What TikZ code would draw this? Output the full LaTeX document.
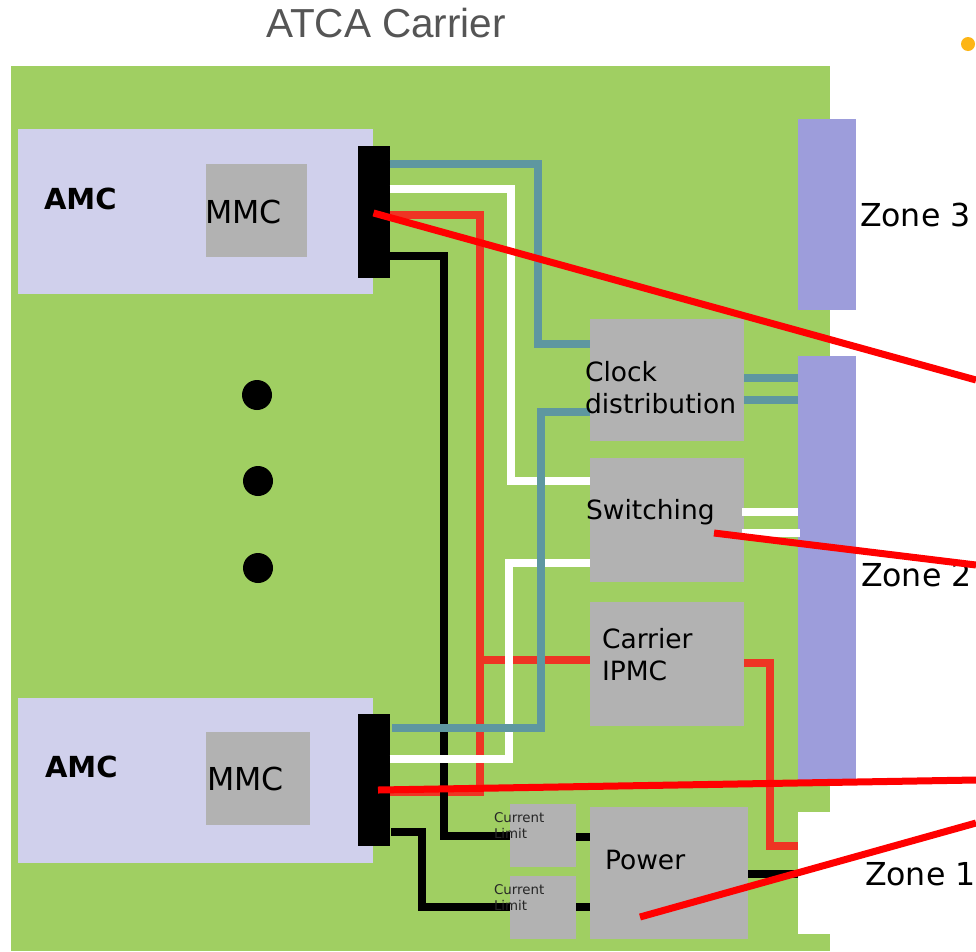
\documentclass[tikz,border=0pt]{standalone}
\usepackage{fontspec}
\setmainfont{DejaVu Sans}
\newfontfamily\titlefont{Liberation Sans}
\definecolor{board}{HTML}{A0CF62}
\definecolor{amcfill}{HTML}{D0D0EC}
\definecolor{greybox}{HTML}{B2B2B2}
\definecolor{zonefill}{HTML}{9D9DDB}
\definecolor{tealw}{HTML}{5E97A0}
\definecolor{redw}{HTML}{EE3524}
\definecolor{overred}{HTML}{FF0000}
\definecolor{titlegrey}{HTML}{555555}
\definecolor{orangedot}{HTML}{FDB515}
\newcommand{\fs}[1]{\fontsize{#1}{#1}\selectfont}
\tikzset{
  x=1pt,y=-1pt,
  panel/.style={draw=none,inner sep=0pt,outer sep=0pt,rectangle},
  amcbox/.style={panel,fill=amcfill,minimum width=355pt,minimum height=165pt},
  graybox/.style={panel,fill=greybox},
  connbox/.style={panel,fill=black,minimum width=32pt,minimum height=132pt},
  zonebox/.style={panel,fill=zonefill,minimum width=58pt},
  wire/.style={line width=7.5pt,line join=miter},
  tealwire/.style={wire,draw=tealw},
  whitewire/.style={wire,draw=white},
  redwire/.style={wire,draw=redw},
  blackwire/.style={wire,draw=black},
  overline/.style={line width=7pt,draw=overred},
  dotnode/.style={circle,fill=black,minimum size=30pt,inner sep=0pt},
  txt/.style={inner sep=0pt,outer sep=0pt,anchor=base west,text=black,font=\fs{26.5}},
  big/.style={txt,font=\fs{31.6}},
  tiny/.style={txt,font=\fs{13.4},text=black!85,align=left},
}
\begin{document}
\begin{tikzpicture}
\useasboundingbox (0,0) rectangle (976,951);
\fill[white] (0,0) rectangle (976,951);
% board
\fill[board] (11,66) rectangle (830,951);
\fill[white] (798,812) rectangle (830,934);
\coordinate (zoneoneedge) at (798,860);
% boxes
\node[amcbox] (amcA) at (195.5,211.5) {};
\node[amcbox] (amcB) at (195.5,780) {};
\node[graybox,minimum width=101pt,minimum height=93pt] (mmcA) at (256,210.5) {};
\node[graybox,minimum width=104pt,minimum height=93pt] (mmcB) at (257.5,778.5) {};
\node[zonebox,minimum height=191pt] (zthree) at (827,214.5) {};
\node[zonebox,minimum height=424pt] (ztwo) at (827,568) {};
\node[graybox,minimum width=154pt,minimum height=122pt] (clock) at (667,380) {};
\node[graybox,minimum width=154pt,minimum height=124pt] (switch) at (667,520) {};
\node[graybox,minimum width=154pt,minimum height=124pt] (ipmc) at (667,664) {};
\node[graybox,minimum width=158pt,minimum height=132pt] (power) at (669,873) {};
\node[graybox,minimum width=66pt,minimum height=63pt] (limA) at (543,835.5) {};
\node[graybox,minimum width=66pt,minimum height=63pt] (limB) at (543,907.5) {};
\node[connbox] (connA) at (373.5,212) {};
\node[connbox] (connB) at (373.5,780) {};
% wires: upper AMC
\draw[tealwire] (connA.east |- 0,164) -- (538,164) |- (clock.west |- 0,344);
\draw[whitewire] (connA.east |- 0,189) -- (511,189) |- (switch.west |- 0,481);
\draw[redwire] (connA.east |- 0,215) -- (480,215) |- (connB.east |- 0,792);
\draw[redwire] (480,660) -- (ipmc.west |- 0,660);
\draw[blackwire] (connA.east |- 0,256) -- (444,256) |- (limA.west |- 0,836);
% wires: lower AMC
\draw[whitewire] (connB.east |- 0,759) -- (509,759) |- (switch.west |- 0,563);
\draw[tealwire] (392,728) -- (541,728) |- (clock.west |- 0,412);
\draw[blackwire] (391,832) -- (422,832) |- (limB.west |- 0,907);
% wires: right side
\draw[tealwire] (clock.east |- 0,378) -- (ztwo.west |- 0,378);
\draw[tealwire] (clock.east |- 0,400) -- (ztwo.west |- 0,400);
\draw[whitewire] (742,512) -- (ztwo.west |- 0,512);
\draw[whitewire] (742,533) -- (800,533);
\draw[redwire] (ipmc.east |- 0,663) -- (770,663) |- (zoneoneedge |- 0,846);
\draw[blackwire] (power.east |- 0,874) -- (zoneoneedge |- 0,874);
\draw[blackwire] (limA.east |- 0,837) -- (power.west |- 0,837);
\draw[blackwire] (limB.east |- 0,907) -- (power.west |- 0,907);
% dots
\node[dotnode] (dotA) at (257,395) {};
\node[dotnode] (dotB) at (258,481) {};
\node[dotnode] (dotC) at (258,568) {};
\node[circle,fill=orangedot,minimum size=14pt,inner sep=0pt] (bullet) at (968,44) {};
% labels
\node[txt,font=\titlefont\fs{40.5},text=titlegrey] (title) at (266,37) {ATCA Carrier};
\node[txt,font=\bfseries\fs{29}] (amcAl) at (44,209) {AMC};
\node[txt,font=\bfseries\fs{29}] (amcBl) at (45,777) {AMC};
\node[big] (mmcAl) at (205,223) {MMC};
\node[big] (mmcBl) at (207,790) {MMC};
\node[big] (zthreel) at (860,226) {Zone 3};
\node[big] (ztwol) at (861,586) {Zone 2};
\node[big] (zonel) at (865,885) {Zone 1};
\node[txt] (clockl) at (585,381) {Clock};
\node[txt] (clocklb) at (585,413) {distribution};
\node[txt] (switchl) at (586,519) {Switching};
\node[txt] (ipmcl) at (602,648) {Carrier};
\node[txt] (ipmclb) at (602,680) {IPMC};
\node[txt] (powerl) at (605,869) {Power};
\node[tiny] (limAl) at (494,822) {Current};
\node[tiny] (limAlb) at (494,838) {Limit};
\node[tiny] (limBl) at (494,894) {Current};
\node[tiny] (limBlb) at (494,910) {Limit};
% red overlay lines
\coordinate (edgeA) at (976,380);
\coordinate (edgeB) at (976,565);
\coordinate (edgeC) at (976,780);
\coordinate (edgeD) at (976,823);
\draw[overline] (connA.center) ++(0,1) -- (edgeA);
\draw[overline] (714,533) -- (edgeB);
\draw[overline] (378,790) -- (edgeC);
\draw[overline] (640,917) -- (edgeD);
\end{tikzpicture}
\end{document}
